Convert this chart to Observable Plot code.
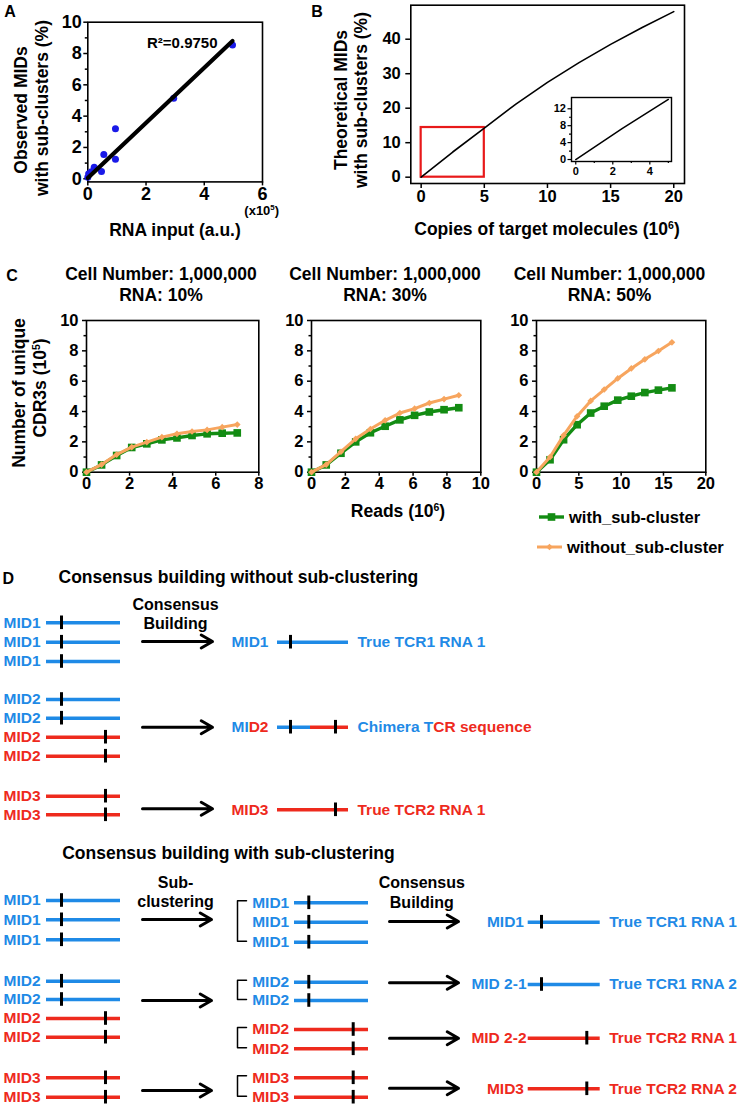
<!DOCTYPE html>
<html><head><meta charset="utf-8">
<script src="https://cdn.jsdelivr.net/npm/d3@7"></script>
<script src="https://cdn.jsdelivr.net/npm/@observablehq/plot@0.6"></script>
<style>
body{margin:0;background:#fff;}
#page{position:relative;width:744px;height:1109px;overflow:hidden;background:#fff;font-family:"Liberation Sans",Arial,Helvetica,sans-serif;font-weight:bold;color:#000;}
.lbl{position:absolute;white-space:nowrap;line-height:1;transform:translate(-50%,-50%);}
.rot{transform:translate(-50%,-50%) rotate(-90deg);}
sup{font-size:0.6em;vertical-align:0.6em;line-height:0;}
</style></head><body><div id="page"></div>
<script>
// ---------------- DATA ----------------
// Panel A: observed MIDs with sub-clusters vs RNA input (x10^5)
const aRnaInput = [0.0, 0.03, 0.12, 0.22, 0.47, 0.55, 0.95, 0.95, 2.95, 4.97];
const aObserved = [0.1, 0.32, 0.45, 0.74, 0.47, 1.55, 3.2, 1.25, 5.15, 8.55];
const aFitX = [0, 4.97];
const aFitY = [0.05, 8.8];
const aR2 = "R²=0.9750";
// Panel B: theoretical curve
const bCopies = [0, 2.5, 5, 7.5, 10, 12.5, 15, 17.5, 20];
const bTheoretical = [0, 7.3, 14.2, 21.2, 27.5, 33.2, 38.5, 43.4, 48];
const bZoomRegion = {x1: 0, x2: 5, y1: 0, y2: 14.4};
// Panel C
const cTitles = ["RNA: 10%", "RNA: 30%", "RNA: 50%"];
const cCellNumber = "Cell Number: 1,000,000";
const c1Reads = [0, 0.7, 1.4, 2.1, 2.8, 3.5, 4.2, 4.9, 5.6, 6.3, 7.0];
const c1With = [0, 0.48, 1.1, 1.63, 1.87, 2.13, 2.26, 2.42, 2.53, 2.57, 2.59];
const c1Without = [0, 0.5, 1.16, 1.65, 1.98, 2.31, 2.53, 2.68, 2.79, 2.97, 3.14];
const c2Reads = [0, 0.87, 1.74, 2.61, 3.48, 4.35, 5.22, 6.09, 6.96, 7.83, 8.7];
const c2With = [0, 0.48, 1.25, 2.0, 2.6, 3.03, 3.45, 3.75, 3.97, 4.12, 4.25];
const c2Without = [0, 0.5, 1.35, 2.2, 2.85, 3.42, 3.9, 4.19, 4.56, 4.82, 5.07];
const c3Reads = [0, 1.6, 3.2, 4.8, 6.4, 8.0, 9.6, 11.2, 12.8, 14.4, 16.0];
const c3With = [0, 0.82, 2.14, 3.13, 3.9, 4.35, 4.75, 5.01, 5.25, 5.41, 5.56];
const c3Without = [0, 1.0, 2.43, 3.69, 4.7, 5.45, 6.18, 6.84, 7.44, 7.99, 8.56];
const seriesNames = ["with_sub-cluster", "without_sub-cluster"];
// Panel D: diagram content
const readMIDs = ["MID1","MID1","MID1","MID2","MID2","MID2","MID2","MID3","MID3"];
const readTCR = [1,1,1,1,1,2,2,2,2];
const s1Results = ["True TCR1 RNA 1", "Chimera TCR sequence", "True TCR2 RNA 1"];
const s2OutMIDs = ["MID1", "MID 2-1", "MID 2-2", "MID3"];
const s2OutTCR = [1, 1, 2, 2];
const s2Results = ["True TCR1 RNA 1", "True TCR1 RNA 2", "True TCR2 RNA 1", "True TCR2 RNA 2"];
const subClusters = [[0,1,2],[3,4],[5,6],[7,8]];

// ---------------- LAYOUT / STYLE ----------------
const FONT = '"Liberation Sans", Arial, Helvetica, sans-serif';
const GREEN = "#138c13", ORANGE = "#f7a55e", DOTBLUE = "#1a1ae8", BLUE = "#1f8ae6", RED = "#ee2a1d";
const page = document.getElementById("page");
function put(el, left, top){ el.style.position="absolute"; el.style.left=left+"px"; el.style.top=top+"px"; page.appendChild(el); return el; }
function label(html, cx, cy, size, rot){
  const d = document.createElement("div");
  d.className = "lbl" + (rot ? " rot" : "");
  d.innerHTML = html; d.style.left = cx+"px"; d.style.top = cy+"px"; d.style.fontSize = size+"px";
  page.appendChild(d);
}
function basePlot(o){
  return Plot.plot({
    width:o.width, height:o.height,
    marginLeft:o.ml, marginRight:o.mr, marginTop:o.mt, marginBottom:o.mb,
    x:{domain:o.xd}, y:{domain:o.yd},
    style:{fontFamily:FONT, fontWeight:"bold", fontSize:o.fs+"px", color:"#000", background:"transparent", overflow:"visible"},
    marks:o.marks
  });
}
function axisMarks(o){
  const m = [
    Plot.axisX({ticks:o.xt, tickSize:o.ts, tickPadding:o.xpad, tickFormat:d=>String(d), label:null, strokeWidth:o.sw}),
    Plot.axisY({ticks:o.yt, tickSize:o.ts, tickPadding:o.ypad, tickFormat:d=>String(d), label:null, strokeWidth:o.sw})
  ];
  if (o.xm) m.push(Plot.axisX({ticks:o.xm, tickSize:o.ms, tickFormat:()=>"", label:null, strokeWidth:o.sw}));
  if (o.ym) m.push(Plot.axisY({ticks:o.ym, tickSize:o.ms, tickFormat:()=>"", label:null, strokeWidth:o.sw}));
  m.push(Plot.frame({stroke:"#000", strokeWidth:o.fw}));
  return m;
}
const zip = (xs, ys) => xs.map((x,i)=>({x, y:ys[i]}));

// ---------------- PANEL A ----------------
put(basePlot({width:300, height:215, ml:87.3, mr:38, mt:21.7, mb:33.6, xd:[0,6], yd:[-0.2,10], fs:18,
  marks:[
    ...axisMarks({xt:[0,2,4,6], yt:[0,2,4,6,8,10], ym:[1,3,5,7,9], ts:4, ms:2.5, xpad:1, ypad:2, sw:1.5, fw:1.6}),
    Plot.dot(zip(aRnaInput, aObserved), {x:"x", y:"y", r:3.5, fill:DOTBLUE}),
    Plot.line(zip(aFitX, aFitY), {x:"x", y:"y", stroke:"#000", strokeWidth:4.2}),
    Plot.text([aR2], {text:d=>d, frameAnchor:"top-right", textAnchor:"end", lineAnchor:"middle", dx:-45, dy:21.3, fontSize:15})
  ]}), 0, 0);
label("A", 10, 12, 16);
label("Observed MIDs", 21.7, 110, 17.5, true);
label("with sub-clusters (%)", 42.5, 108, 17.5, true);
label("RNA input (a.u.)", 175, 231, 17.5);
label("(x10<sup>5</sup>)", 261.7, 210, 13);

// ---------------- PANEL B ----------------
const bPts = zip(bCopies, bTheoretical);
put(basePlot({width:384, height:215, ml:50.3, mr:60, mt:4.7, mb:32, xd:[-0.82,20.85], yd:[-1.83,49.86], fs:16.5,
  marks:[
    ...axisMarks({xt:[0,5,10,15,20], yt:[0,10,20,30,40], ts:5, xpad:2, ypad:5, sw:1.5, fw:1.6}),
    Plot.rect([bZoomRegion], {x1:"x1", x2:"x2", y1:"y1", y2:"y2", fill:"none", stroke:"#e8191a", strokeWidth:2.2}),
    Plot.line(bPts, {x:"x", y:"y", stroke:"#000", strokeWidth:1.6})
  ]}), 360, 0);
put(basePlot({width:140, height:95, ml:31, mr:9, mt:7, mb:24, xd:[-0.23,5.17], yd:[-0.47,14.67], fs:11,
  marks:[
    ...axisMarks({xt:[0,2,4], yt:[0,4,8,12], xm:[1,3,5], ym:[2,6,10], ts:3.5, ms:2, xpad:2, ypad:2, sw:1.2, fw:1.4}),
    Plot.line(bPts.filter(d=>d.x<=bZoomRegion.x2), {x:"x", y:"y", stroke:"#000", strokeWidth:1.5})
  ]}), 540, 90);
label("B", 317, 12, 16);
label("Theoretical MIDs", 341.5, 100, 17.5, true);
label("with sub-clusters (%)", 362, 100, 17.5, true);
label("Copies of target molecules (10<sup>6</sup>)", 547, 230, 17.5);

// ---------------- PANEL C ----------------
function cPanel(reads, withV, withoutV, xd, xt, xm, width, ml, mr){
  const w = zip(reads, withV), wo = zip(reads, withoutV);
  return basePlot({width, height:200, ml, mr, mt:20, mb:28.3, xd, yd:[0,10], fs:16.5, marks:[
    ...axisMarks({xt, yt:[0,2,4,6,8,10], xm, ym:[1,3,5,7,9], ts:4, ms:2.5, xpad:1, ypad:4, sw:1.5, fw:1.6}),
    Plot.line(w, {x:"x", y:"y", stroke:GREEN, strokeWidth:3.4}),
    Plot.dot(w, {x:"x", y:"y", symbol:"square", r:4.3, fill:GREEN}),
    Plot.line(wo, {x:"x", y:"y", stroke:ORANGE, strokeWidth:3}),
    Plot.dot(wo, {x:"x", y:"y", symbol:"diamond2", r:3.0, fill:ORANGE})
  ]});
}
put(cPanel(c1Reads, c1With, c1Without, [0,8], [0,2,4,6,8], null, 230, 46, 11.7), 40, 300);
put(cPanel(c2Reads, c2With, c2Without, [0,10], [0,2,4,6,8,10], null, 225, 41, 14.7), 270, 300);
put(cPanel(c3Reads, c3With, c3Without, [0,20], [0,5,10,15,20], null, 230, 41, 19.7), 495, 300);
label("C", 12, 276, 16);
[161, 385, 609.5].forEach((cx,i)=>{ label(cCellNumber, cx, 275, 17.5); label(cTitles[i], cx, 295.5, 17.5); });
label("Number of unique", 20, 393, 17.5, true);
label("CDR3s (10<sup>5</sup>)", 40.5, 388, 17.5, true);
label("Reads (10<sup>6</sup>)", 398, 511.7, 17.5);
// legend
(function(){
  const lg = d3.create("svg").attr("width", 214).attr("height", 55).style("overflow","visible");
  const items = [
    {name:seriesNames[0], color:GREEN, y:12, x1:9, x2:34, sym:d3.symbolSquare, r:4.3, sw:3.4, tx:39},
    {name:seriesNames[1], color:ORANGE, y:42, x1:7, x2:32, sym:d3.symbolDiamond2, r:3.0, sw:3, tx:37}
  ];
  items.forEach(it=>{
    lg.append("line").attr("x1",it.x1).attr("x2",it.x2).attr("y1",it.y).attr("y2",it.y).attr("stroke",it.color).attr("stroke-width",it.sw);
    lg.append("path").attr("d", d3.symbol(it.sym, Math.PI*it.r*it.r)()).attr("transform",`translate(${(it.x1+it.x2)/2},${it.y})`).attr("fill",it.color);
    lg.append("text").attr("x",it.tx).attr("y",it.y).attr("dy","0.35em").attr("font-family",FONT).attr("font-weight","bold").attr("font-size",16.5).text(it.name);
  });
  put(lg.node(), 530, 505);
})();

// ---------------- PANEL D ----------------
const ctx = document.createElement("canvas").getContext("2d");
function textW(s, size){ ctx.font = `bold ${size}px "Liberation Sans", Arial, sans-serif`; return ctx.measureText(s).width; }
const tcrColor = t => t === 1 ? BLUE : RED;
const FS = 15.5;
// layout (pixel positions of the diagram)
const LY = {
  s1Rows:[622.3,641.7,661,699,717.7,736.7,755.7,795.7,814.3],
  s2Rows:[900,919.3,939.3,980.7,999,1018,1036.7,1077.3,1096.7],
  midRows:[902.3,921.7,941.7,981.7,1000,1029,1048.3,1077.3,1096.7],
  s1OutRows:[641.7,726.7,809.3], s1Arrows:[641,726.7,808.3],
  s2OutRows:[921.7,984,1037.7,1088.3], s2SubArrows:[919,1000,1090], s2ConArrows:[921,982.3,1037.7,1087.7]
};
const segs = [], ticks = [], startT = [], endT = [], arrows = [], brackets = [];
function readCol(rows, textX, x1, x2, t1, t2){
  readMIDs.forEach((mid,i)=>{
    const c = tcrColor(readTCR[i]);
    startT.push({x:textX, y:rows[i], text:mid, color:c});
    segs.push({x1, x2, y:rows[i], color:c});
    ticks.push({x: readTCR[i]===1 ? t1 : t2, y:rows[i]});
  });
}
readCol(LY.s1Rows, 3, 46, 120, 61, 105);
readCol(LY.s2Rows, 3, 46, 120, 61, 105);
readCol(LY.midRows, 251.7, 294, 368, 308.3, 352.7);
subClusters.forEach((g,k)=>{
  const top = LY.midRows[g[0]] - 2, bot = LY.midRows[g[g.length-1]] - 1;
  [[246,top],[237,top],[237,bot],[246,bot]].forEach(p=>brackets.push({x:p[0], y:p[1], g:k}));
});
// section 1 outputs
LY.s1Arrows.forEach(y=>arrows.push({x1:142, x2:212, y}));
[0,2].forEach((k)=>{
  const t = k===0 ? 1 : 2, c = tcrColor(t), y = LY.s1OutRows[k];
  endT.push({x:268, y, text: k===0 ? "MID1" : "MID3", color:c});
  segs.push({x1:277, x2:348, y, color:c});
  ticks.push({x: t===1 ? 290 : 335, y});
  startT.push({x:357, y, text:s1Results[k], color:c});
});
{ // chimera
  const y = LY.s1OutRows[1];
  endT.push({x:268, y, text:"D2", color:RED});
  endT.push({x:268 - textW("D2", FS), y, text:"MI", color:BLUE});
  segs.push({x1:277, x2:310, y, color:BLUE});
  segs.push({x1:310, x2:348, y, color:RED});
  ticks.push({x:290, y}); ticks.push({x:335, y});
  const part1 = s1Results[1].slice(0, 9); // "Chimera T"
  startT.push({x:357, y, text:part1, color:BLUE});
  startT.push({x:357 + textW(part1, FS), y, text:s1Results[1].slice(9), color:RED});
}
// section 2 outputs
LY.s2SubArrows.forEach(y=>arrows.push({x1:142, x2:211, y}));
LY.s2ConArrows.forEach(y=>arrows.push({x1:389, x2:458, y}));
s2OutMIDs.forEach((mid,k)=>{
  const c = tcrColor(s2OutTCR[k]), y = LY.s2OutRows[k];
  endT.push({x: mid.length > 4 ? 526 : 523.5, y, text:mid, color:c});
  segs.push({x1:527.7, x2:599.7, y, color:c});
  ticks.push({x: s2OutTCR[k]===1 ? 541 : 586.3, y});
  startT.push({x:608.7, y, text:s2Results[k], color:c});
});
const midT = [
  {x:175, y:604, text:"Consensus"}, {x:175, y:623.3, text:"Building"},
  {x:175, y:882.3, text:"Sub-"}, {x:175, y:901.7, text:"clustering"},
  {x:421.3, y:882.3, text:"Consensus"}, {x:421.3, y:902.3, text:"Building"}
];
const titleT = [
  {x:58, y:577, text:"Consensus building without sub-clustering"},
  {x:61.7, y:853.3, text:"Consensus building with sub-clustering"}
];
const dPlot = Plot.plot({
  width:744, height:544, margin:0,
  x:{domain:[0,744], range:[0,744], axis:null},
  y:{domain:[565,1109], range:[0,544], axis:null},
  color:{type:"identity"},
  style:{fontFamily:FONT, fontWeight:"bold", background:"transparent", overflow:"visible"},
  marks:[
    Plot.ruleY(segs, {y:"y", x1:"x1", x2:"x2", stroke:"color", strokeWidth:3.6}),
    Plot.ruleX(ticks, {x:"x", y1:d=>d.y-6.8, y2:d=>d.y+6.8, stroke:"#000", strokeWidth:3}),
    Plot.line(brackets, {x:"x", y:"y", z:"g", stroke:"#000", strokeWidth:1.5}),
    Plot.arrow(arrows, {x1:"x1", y1:"y", x2:"x2", y2:"y", stroke:"#000", strokeWidth:3, headLength:6.5, headAngle:60}),
    Plot.text(startT, {x:"x", y:"y", text:"text", fill:"color", textAnchor:"start", fontSize:FS}),
    Plot.text(endT, {x:"x", y:"y", text:"text", fill:"color", textAnchor:"end", fontSize:FS}),
    Plot.text(midT, {x:"x", y:"y", text:"text", fill:"#000", textAnchor:"middle", fontSize:16}),
    Plot.text(titleT, {x:"x", y:"y", text:"text", fill:"#000", textAnchor:"start", fontSize:17.5}),
    Plot.text(["D"], {x:()=>2, y:()=>578, text:d=>d, fill:"#000", textAnchor:"start", fontSize:16})
  ]
});
put(dPlot, 0, 565);
</script>
</body></html>
